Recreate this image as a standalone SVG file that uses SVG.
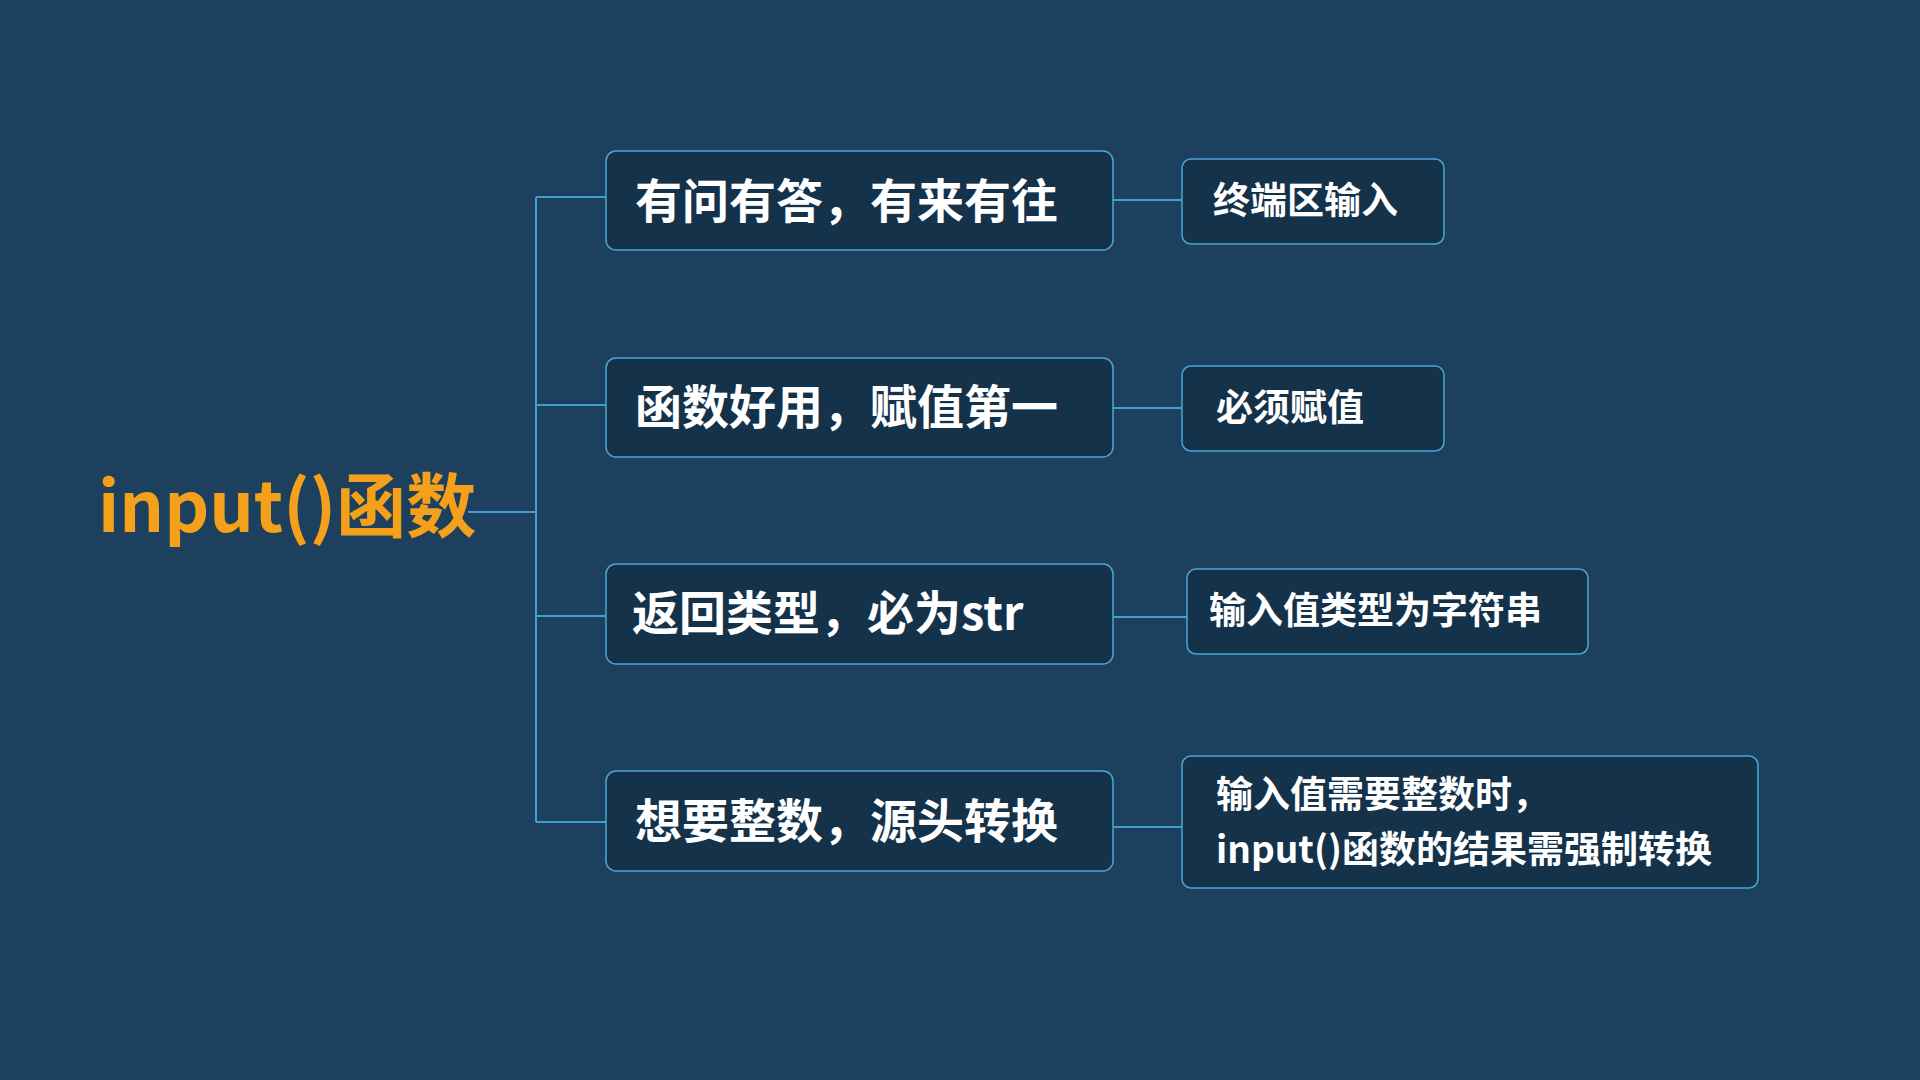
<svg xmlns="http://www.w3.org/2000/svg" width="1920" height="1080" viewBox="0 0 1920 1080">
<style>
.box{fill:#15324b;stroke:#4aa6d6;stroke-width:1.5}
.ln{stroke:#3f9fd3;stroke-width:2;fill:none}
.t1{font-family:"Noto Sans CJK SC",sans-serif;font-weight:bold;font-size:47px;fill:#fff}
.t2{font-family:"Noto Sans CJK SC",sans-serif;font-weight:bold;font-size:37px;fill:#fff}
</style>
<rect width="1920" height="1080" fill="#1c405d"/>
<g id="connectors">
<path class="ln" d="M468 512H536M536 197V822M536 197H606M536 405H606M536 616H606M536 822H606"/>
<path class="ln" d="M1113 200H1182M1113 408H1182M1113 617H1187M1113 827H1182"/>
</g>
<g id="root"><text x="98" y="532" font-family="'Noto Sans CJK SC',sans-serif" font-weight="bold" font-size="70" fill="#f5a01a">input()函数</text></g>
<g id="n1"><rect class="box" x="606" y="151" width="507" height="99" rx="10"/><text class="t1" x="635" y="218">有问有答，有来有往</text></g>
<g id="n2"><rect class="box" x="606" y="358" width="507" height="99" rx="10"/><text class="t1" x="635" y="424">函数好用，赋值第一</text></g>
<g id="n3"><rect class="box" x="606" y="564" width="507" height="100" rx="10"/><text class="t1" x="632" y="630">返回类型，必为str</text></g>
<g id="n4"><rect class="box" x="606" y="771" width="507" height="100" rx="10"/><text class="t1" x="635" y="838">想要整数，源头转换</text></g>
<g id="r1"><rect class="box" x="1182" y="159" width="262" height="85" rx="9"/><text class="t2" x="1213" y="214">终端区输入</text></g>
<g id="r2"><rect class="box" x="1182" y="366" width="262" height="85" rx="9"/><text class="t2" x="1216" y="421">必须赋值</text></g>
<g id="r3"><rect class="box" x="1187" y="569" width="401" height="85" rx="9"/><text class="t2" x="1209" y="624">输入值类型为字符串</text></g>
<g id="r4"><rect class="box" x="1182" y="756" width="576" height="132" rx="9"/><text class="t2" x="1216" y="808">输入值需要整数时，</text><text class="t2" x="1216" y="863">input()函数的结果需强制转换</text></g>
</svg>
